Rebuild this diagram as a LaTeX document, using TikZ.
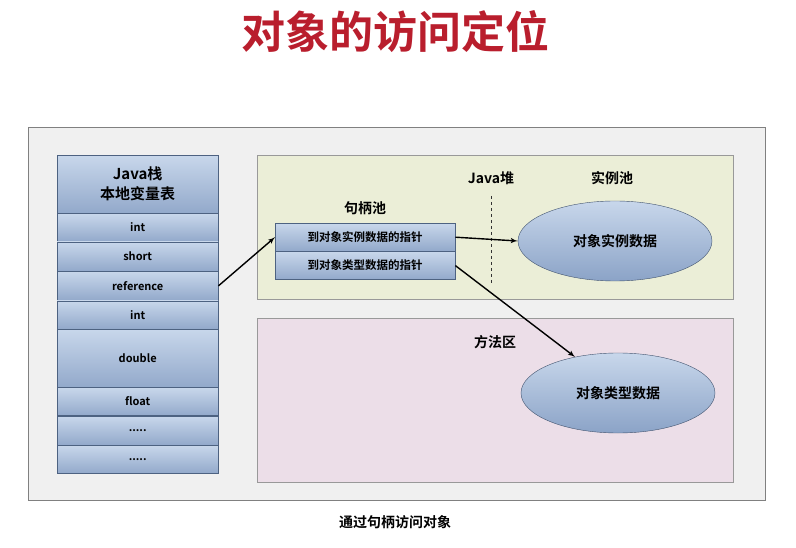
\documentclass[tikz,border=0pt]{standalone}
\usepackage{fontspec}
\setmainfont{Noto Sans CJK SC}[BoldFont={Noto Sans CJK SC Bold}]
\usetikzlibrary{shapes,arrows,positioning,calc}
\definecolor{titlered}{RGB}{185,30,45}
\definecolor{cellblue}{RGB}{110,140,185}
\definecolor{celltop}{RGB}{200,215,235}
\tikzstyle{cell} = [rectangle, draw=cellblue!70!black, top color=celltop, bottom color=cellblue!75, minimum width=161pt, inner sep=0pt, font=\bfseries\fontsize{11}{12}\selectfont]
\tikzstyle{handle} = [rectangle, draw=cellblue!70!black, top color=celltop, bottom color=cellblue!75, minimum width=180pt, minimum height=28pt, inner sep=0pt, font=\bfseries\fontsize{11.5}{12}\selectfont]
\tikzstyle{data} = [ellipse, draw=cellblue!60!black, top color=celltop, bottom color=cellblue!80, minimum width=194pt, minimum height=80pt, font=\bfseries\fontsize{14}{15}\selectfont]
\tikzstyle{areatext} = [font=\bfseries\fontsize{14}{15}\selectfont]
\tikzstyle{line} = [draw, line width=1.4pt, -latex']
\begin{document}
\begin{tikzpicture}[x=1pt,y=-1pt]
	\useasboundingbox (0,0) rectangle (796,548);
	%Panels
	\node [font=\bfseries\fontsize{44}{46}\selectfont, text=titlered] (Title) at (395,32) {对象的访问定位};
	\draw [gray, fill=gray!12] (28,127) rectangle (765,500);
	\draw [gray!80, fill={rgb,255:red,235;green,238;blue,215}] (257,155) rectangle (733,299);
	\draw [gray!80, fill={rgb,255:red,236;green,222;blue,232}] (257,318) rectangle (733,482);
	\draw [dashed, gray!40!black] (491,196) -- (491,283);

	%Stack
	\node [cell, minimum height=58pt, anchor=north west, font=\bfseries\fontsize{15}{20}\selectfont, align=center] (Stack) at (57,155) {Java栈\\本地变量表};
	\node [cell, minimum height=28pt, below=0pt of Stack] (Int1) {int};
	\node [cell, minimum height=29pt, below=0pt of Int1] (Short) {short};
	\node [cell, minimum height=29pt, below=0pt of Short] (Reference) {reference};
	\node [cell, minimum height=28pt, below=0pt of Reference] (Int2) {int};
	\node [cell, minimum height=58pt, below=0pt of Int2] (Double) {double};
	\node [cell, minimum height=28pt, below=0pt of Double] (Float) {float};
	\node [cell, minimum height=29pt, below=0pt of Float] (Dots1) {.....};
	\node [cell, minimum height=28pt, below=0pt of Dots1] (Dots2) {.....};

	%Heap and method area
	\node [areatext] (Heap) at (491,178) {Java堆};
	\node [areatext] (Pool) at (612,178) {实例池};
	\node [areatext] (HandlePool) at (365,208) {句柄池};
	\node [handle, anchor=north west] (ToInst) at (275,223) {到对象实例数据的指针};
	\node [handle, below=0pt of ToInst] (ToType) {到对象类型数据的指针};
	\node [data] (InstData) at (615,241) {对象实例数据};
	\node [areatext] (Method) at (495,342) {方法区};
	\node [data] (TypeData) at (618,393) {对象类型数据};
	\node [areatext] (Caption) at (395,522) {通过句柄访问对象};

	\path [line] (Reference.east) -- (ToInst.west);
	\path [line] (ToInst.east) -- (InstData.west);
	\path [line] (ToType.east) -- (TypeData.140);
\end{tikzpicture}
\end{document}
